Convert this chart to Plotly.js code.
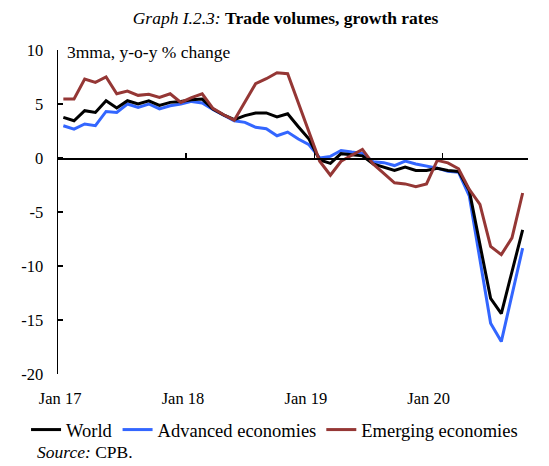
<!DOCTYPE html>
<html>
<head>
<meta charset="utf-8">
<script src="https://cdn.plot.ly/plotly-3.0.1.min.js"></script>
<style>html,body{margin:0;padding:0;background:#fff;}#chart{width:549px;height:466px;}</style>
</head>
<body>
<div id="chart"></div>
<script>
// Monthly, Jan 2017 – Aug 2020 (3mma, y-o-y % change)
const months = [
  "Jan 17","Feb 17","Mar 17","Apr 17","May 17","Jun 17","Jul 17","Aug 17","Sep 17","Oct 17","Nov 17","Dec 17",
  "Jan 18","Feb 18","Mar 18","Apr 18","May 18","Jun 18","Jul 18","Aug 18","Sep 18","Oct 18","Nov 18","Dec 18",
  "Jan 19","Feb 19","Mar 19","Apr 19","May 19","Jun 19","Jul 19","Aug 19","Sep 19","Oct 19","Nov 19","Dec 19",
  "Jan 20","Feb 20","Mar 20","Apr 20","May 20","Jun 20","Jul 20","Aug 20"
];
const world = [
  3.76,3.45,4.38,4.22,5.3,4.63,5.3,5.0,5.3,4.87,5.15,5.24,
  5.4,5.46,4.54,4.0,3.55,3.92,4.17,4.17,3.8,4.1,2.9,1.75,
  -0.18,-0.5,0.4,0.3,0.2,-0.55,-0.88,-1.16,-0.85,-1.16,-1.16,-0.95,
  -1.15,-1.24,-3.0,-8.0,-13.0,-14.4,-10.5,-6.65
];
const advanced = [
  2.99,2.68,3.15,2.99,4.31,4.22,5.0,4.69,5.0,4.54,4.84,5.0,
  5.24,5.1,4.5,4.0,3.45,3.3,2.84,2.71,2.06,2.4,1.76,1.23,
  0.0,0.15,0.7,0.55,0.43,-0.35,-0.43,-0.7,-0.28,-0.55,-0.71,-0.94,
  -1.24,-1.33,-3.5,-9.6,-15.3,-17.0,-12.6,-8.35
];
const emerging = [
  5.46,5.46,7.31,7.0,7.5,5.95,6.2,5.8,5.9,5.6,5.95,5.15,
  5.6,5.95,4.6,4.0,3.5,5.24,6.88,7.34,7.9,7.8,5.1,2.4,
  -0.3,-1.6,-0.3,0.25,0.8,-0.55,-1.45,-2.3,-2.4,-2.65,-2.4,-0.22,
  -0.45,-1.0,-2.9,-4.3,-8.18,-8.95,-7.4,-3.24
];
const xLabels = ["Jan 17","Jan 18","Jan 19","Jan 20"];
const yTickVals = [10,5,0,-5,-10,-15,-20];
const yTickText = ["10","5","0","-5","-10","-15","-20"];

const idx = months.map((_, i) => i);
const labelPos = xLabels.map(l => months.indexOf(l) - 0.3 - 0.5 * xLabels.indexOf(l));
const yearTicks = xLabels.slice(1).map(l => months.indexOf(l) - 0.5);

const FONT = "Liberation Serif";
const BLUE = "#3366ff", RED = "#953735", BLACK = "#000000";

const traces = [
  {x: idx, y: advanced, name: "Advanced economies", type: "scatter", mode: "lines",
   line: {color: BLUE, width: 3}, legendrank: 2},
  {x: idx, y: world, name: "World", type: "scatter", mode: "lines",
   line: {color: BLACK, width: 3}, legendrank: 1},
  {x: idx, y: emerging, name: "Emerging economies", type: "scatter", mode: "lines",
   line: {color: RED, width: 3}, legendrank: 3},
  // carrier for the zero-line axis with year ticks
  {x: [idx[0]], y: [0], xaxis: "x2", yaxis: "y", mode: "none", showlegend: false, hoverinfo: "skip"}
];

const layout = {
  width: 549, height: 466,
  margin: {l: 58, r: 21, t: 50, b: 92, autoexpand: false},
  paper_bgcolor: "#fff", plot_bgcolor: "#fff",
  font: {family: FONT, size: 16, color: "#000"},
  title: {
    text: "<i>Graph I.2.3:</i> <b>Trade volumes, growth rates</b>",
    font: {family: FONT, size: 17.5, color: "#000"},
    xref: "container", x: 0.52, xanchor: "center",
    yref: "container", y: 0.962, yanchor: "middle"
  },
  showlegend: true,
  legend: {
    orientation: "h", xref: "paper", yref: "paper",
    x: -0.068, xanchor: "left", y: -0.173, yanchor: "middle",
    font: {family: FONT, size: 18.5, color: "#000"}, bgcolor: "rgba(0,0,0,0)",
    itemwidth: 30, tracegroupgap: 0
  },
  xaxis: {
    range: [-0.5, months.length - 0.5], showgrid: false, zeroline: false, showline: false,
    tickmode: "array", tickvals: labelPos, ticktext: xLabels,
    ticks: "outside", ticklen: 9, tickcolor: "rgba(0,0,0,0)",
    tickfont: {family: FONT, size: 16.5, color: "#000"}, fixedrange: true
  },
  xaxis2: {
    overlaying: "x", anchor: "free", position: 2/3, side: "bottom",
    range: [-0.5, months.length - 0.5], showgrid: false, zeroline: false,
    showline: true, linecolor: "#000", linewidth: 1.5,
    tickmode: "array", tickvals: yearTicks, showticklabels: false,
    ticks: "inside", ticklen: 5, tickwidth: 1.5, tickcolor: "#000"
  },
  yaxis: {
    range: [-20, 10], showgrid: false, zeroline: false,
    showline: true, linecolor: "#000", linewidth: 1.5,
    tickmode: "array", tickvals: yTickVals, ticktext: yTickText,
    ticks: "inside", ticklen: 5, tickwidth: 1.5, tickcolor: "#000",
    ticklabelstandoff: 10,
    tickfont: {family: FONT, size: 16.5, color: "#000"}
  },
  annotations: [
    {text: "3mma, y-o-y % change", xref: "paper", yref: "paper", x: 0.015, y: 0.994,
     xanchor: "left", yanchor: "middle", showarrow: false,
     font: {family: FONT, size: 17.5, color: "#000"}},
    {text: "<i>Source:</i> CPB.", xref: "paper", yref: "paper", x: -0.05, y: -0.241,
     xanchor: "left", yanchor: "middle", showarrow: false,
     font: {family: FONT, size: 17.5, color: "#000"}}
  ]
};

Plotly.newPlot("chart", traces, layout, {displayModeBar: false, staticPlot: true});
</script>
</body>
</html>
